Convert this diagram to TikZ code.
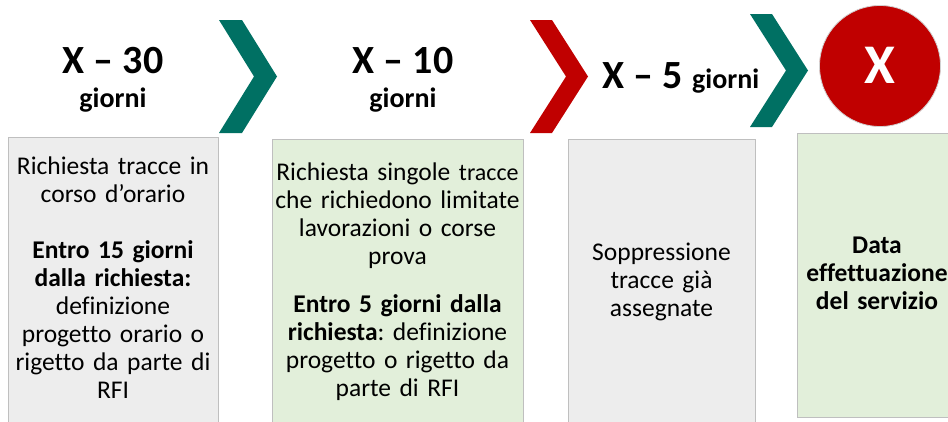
\documentclass[tikz,border=0pt]{standalone}
\usepackage{fontspec}
\setmainfont{Carlito}[Ligatures=CommonOff]
\frenchspacing
\definecolor{teal1}{RGB}{0,112,99}
\definecolor{red1}{RGB}{192,0,0}
\definecolor{grayfill}{RGB}{237,237,237}
\definecolor{greenfill}{RGB}{226,239,218}
\definecolor{boxborder}{RGB}{191,191,191}
\begin{document}
\begin{tikzpicture}[x=1pt,y=-1pt,
  box/.style={draw=boxborder, line width=0.8pt, anchor=north west, inner sep=0pt},
  boxtext/.style={anchor=base, align=center, text width=300pt, inner sep=0pt,
    font=\fontsize{25.5}{28}\selectfont},
  bighead/.style={anchor=base, inner sep=0pt, font=\bfseries\fontsize{40}{44}\selectfont},
  smallhead/.style={anchor=base, inner sep=0pt, font=\bfseries\fontsize{28}{30}\selectfont}
]
\useasboundingbox (0,0) rectangle (948,421);
\clip (0,0) rectangle (948,421);

% chevrons
\fill[teal1] (219,20) -- (242,20) -- (277,76.5) -- (242,133) -- (219,133) -- (254,76.5) -- cycle;
\fill[red1] (530,20) -- (552,20) -- (588,76.5) -- (552,133) -- (530,133) -- (566,76.5) -- cycle;
\fill[teal1] (750,14) -- (772,14) -- (808,70.5) -- (772,127) -- (750,127) -- (786,70.5) -- cycle;

% circle
\node[circle, fill=red1, draw=gray!35, line width=0.8pt, minimum size=121pt, inner sep=0pt,
  text=white, font=\bfseries\fontsize{56}{60}\selectfont] (xc) at (880,66) {\raisebox{1.5pt}{X}};

% headers
\node[bighead] (h1) at (113,73) {X – 30};
\node[smallhead] (g1) at (113,107) {giorni};
\node[bighead] (h2) at (403,73) {X – 10};
\node[smallhead] (g2) at (403,107) {giorni};
\node[anchor=base, inner sep=0pt, font=\bfseries\fontsize{40}{44}\selectfont] (h3) at (681,88)
  {X – 5 {\fontsize{28}{30}\selectfont giorni}};

% boxes
\node[box, fill=grayfill, minimum width=210pt, minimum height=293pt] (b1) at (8,137) {};
\node[box, fill=greenfill, minimum width=251pt, minimum height=291pt] (b2) at (272,139) {};
\node[box, fill=grayfill, minimum width=187pt, minimum height=291pt] (b3) at (568,139) {};
\node[box, fill=greenfill, minimum width=160pt, minimum height=284pt] (b4) at (797,133) {};

% box texts
\node[boxtext] (t1) at (113,174) {Richiesta tracce in\\ corso d’orario\\[28pt]
  \textbf{Entro 15 giorni}\\ \textbf{dalla richiesta:}\\ definizione\\ progetto orario o\\
  rigetto da parte di\\ RFI};
\node[boxtext] (t2) at (397.5,180) {Richiesta singole {\fontsize{24}{28}\selectfont tracce}\\
  che richiedono limitate\\ lavorazioni o corse\\ prova\\[20pt]
  \textbf{Entro 5 giorni dalla}\\ \textbf{richiesta}: definizione\\ progetto o rigetto da\\
  parte di RFI};
\node[boxtext] (t3) at (661.5,260) {Soppressione\\ tracce già\\ assegnate};
\node[boxtext, font=\bfseries\fontsize{25.5}{28}\selectfont] (t4) at (877,253)
  {Data\\ effettuazione\\ del servizio};
\end{tikzpicture}
\end{document}
